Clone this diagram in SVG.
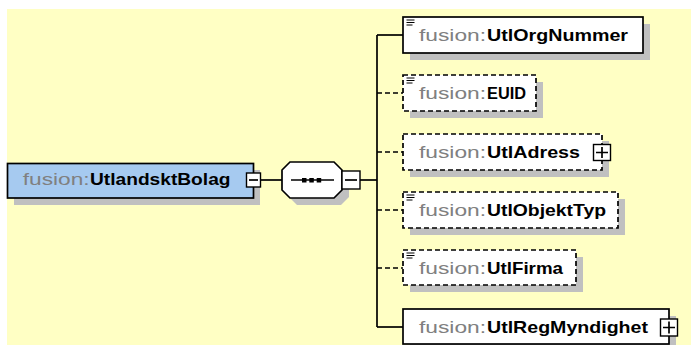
<svg xmlns="http://www.w3.org/2000/svg" width="691" height="345" viewBox="0 0 691 345">
<style>
.bg{fill:#FFFFC4}
.sh{fill:#C0C0C0}
.box{fill:#FFFFFF;stroke:#000;stroke-width:1.7}
.dbox{fill:#FFFFFF;stroke:#000;stroke-width:1.7;stroke-dasharray:5,3}
.main{fill:#A6CAF0;stroke:#000;stroke-width:1.7}
.ln{stroke:#000;stroke-width:1.7;fill:none}
.dl{stroke:#000;stroke-width:1.7;fill:none;stroke-dasharray:5,3}
.ns{font-family:"Liberation Sans",Arial,sans-serif;font-size:16.5px;fill:#808080}
.nm{font-family:"Liberation Sans",Arial,sans-serif;font-size:16.5px;font-weight:bold;fill:#000}
.ic{stroke:#000;stroke-width:1;fill:none}
.pm{fill:#FFFFFF;stroke:#000;stroke-width:1.4}
</style>
<defs>
<g id="icon"><path class="ic" d="M0 0.5H8M0 3H8M0 5.5H6"/></g>
</defs>
<rect class="bg" x="7" y="9" width="684" height="336"/>

<g id="connectors">
<path class="ln" d="M261 180H282"/>
<path class="ln" d="M360 180H377"/>
<path class="ln" d="M377 35V327"/>
<path class="ln" d="M377 35H403"/>
<path class="dl" d="M377 93H403"/>
<path class="dl" d="M377 152H403"/>
<path class="dl" d="M377 210H403"/>
<path class="dl" d="M377 268H403"/>
<path class="ln" d="M377 327H403"/>
</g>

<g id="UtlandsktBolag">
<rect class="sh" x="14" y="170" width="246" height="35"/>
<rect class="main" x="7.5" y="163.5" width="246" height="34.5"/>
<text class="ns" x="22.7" y="185" textLength="67" lengthAdjust="spacingAndGlyphs">fusion:</text>
<text class="nm" x="90" y="185" textLength="140.5" lengthAdjust="spacingAndGlyphs">UtlandsktBolag</text>
<rect class="pm" x="246.5" y="173" width="14" height="14"/>
<path class="ln" d="M249 180H258"/>
</g>

<g id="sequence">
<path class="sh" d="M297 169H341L349 177V197L341 205H297L289 197V177Z"/>
<path class="box" d="M290 162H334L342 170V190L334 198H290L282 190V170Z"/>
<path class="ln" d="M291 180H334"/>
<rect x="302" y="178" width="4.5" height="4.5" fill="#000"/>
<rect x="309.3" y="178" width="4.5" height="4.5" fill="#000"/>
<rect x="316.7" y="178" width="4.5" height="4.5" fill="#000"/>
<rect class="pm" x="342" y="171" width="18" height="18"/>
<path class="ln" d="M345 180H357"/>
</g>

<g id="UtlOrgNummer">
<rect class="sh" x="410" y="24" width="240" height="36"/>
<rect class="box" x="403" y="17" width="240" height="36"/>
<use href="#icon" x="406.5" y="19.5"/>
<text class="ns" x="419" y="41" textLength="67" lengthAdjust="spacingAndGlyphs">fusion:</text>
<text class="nm" x="487" y="41" textLength="141" lengthAdjust="spacingAndGlyphs">UtlOrgNummer</text>
</g>

<g id="EUID">
<rect class="sh" x="410" y="82" width="133" height="36"/>
<rect class="dbox" x="403" y="75" width="133" height="36"/>
<use href="#icon" x="406.5" y="77.5"/>
<text class="ns" x="419" y="99" textLength="67" lengthAdjust="spacingAndGlyphs">fusion:</text>
<text class="nm" x="487" y="99" textLength="39" lengthAdjust="spacingAndGlyphs">EUID</text>
</g>

<g id="UtlAdress">
<rect class="sh" x="410" y="141" width="199" height="36"/>
<rect class="dbox" x="403" y="134" width="199" height="36"/>
<text class="ns" x="419" y="158" textLength="67" lengthAdjust="spacingAndGlyphs">fusion:</text>
<text class="nm" x="487" y="158" textLength="93" lengthAdjust="spacingAndGlyphs">UtlAdress</text>
<rect class="pm" x="593.5" y="144.5" width="17" height="16"/>
<path class="ln" d="M596 152.5H608M602 147V158"/>
</g>

<g id="UtlObjektTyp">
<rect class="sh" x="410" y="199" width="215" height="36"/>
<rect class="dbox" x="403" y="192" width="215" height="36"/>
<use href="#icon" x="406.5" y="194.5"/>
<text class="ns" x="419" y="216" textLength="67" lengthAdjust="spacingAndGlyphs">fusion:</text>
<text class="nm" x="487" y="216" textLength="119" lengthAdjust="spacingAndGlyphs">UtlObjektTyp</text>
</g>

<g id="UtlFirma">
<rect class="sh" x="410" y="257" width="173" height="35"/>
<rect class="dbox" x="403" y="250" width="173" height="35"/>
<use href="#icon" x="406.5" y="252.5"/>
<text class="ns" x="419" y="274" textLength="67" lengthAdjust="spacingAndGlyphs">fusion:</text>
<text class="nm" x="487" y="274" textLength="76" lengthAdjust="spacingAndGlyphs">UtlFirma</text>
</g>

<g id="UtlRegMyndighet">
<rect class="sh" x="410" y="316" width="266" height="36"/>
<rect class="box" x="403" y="309" width="266" height="35"/>
<text class="ns" x="419" y="333" textLength="67" lengthAdjust="spacingAndGlyphs">fusion:</text>
<text class="nm" x="487" y="333" textLength="161" lengthAdjust="spacingAndGlyphs">UtlRegMyndighet</text>
<rect class="pm" x="660.5" y="319" width="17" height="17"/>
<path class="ln" d="M663 327.5H675M669 321.5V333.5"/>
</g>
</svg>
